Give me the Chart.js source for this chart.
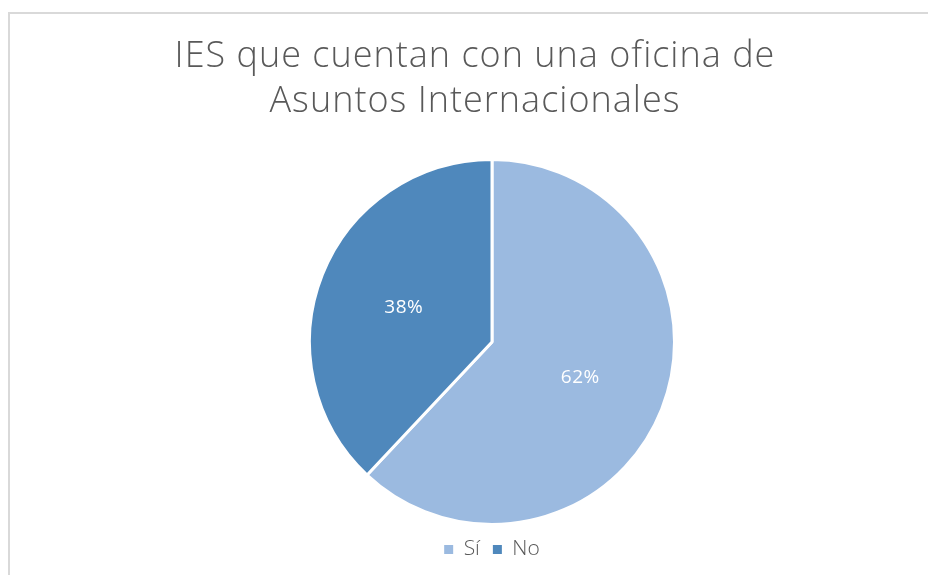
<!DOCTYPE html>
<html>
<head>
<meta charset="utf-8">
<script src="https://cdn.jsdelivr.net/npm/chart.js@4"></script>
<style>
html,body{margin:0;padding:0;background:#fff;}
#wrap{width:928px;height:575px;position:relative;}
</style>
</head>
<body>
<div id="wrap"><canvas id="c" width="928" height="575"></canvas></div>
<script>
const titleLines = ["IES que cuentan con una oficina de", "Asuntos Internacionales"];
const categories = ["Sí", "No"];
const values = [62, 38];
const colors = ["#9BBAE0", "#4F88BC"];

const frame = {
  id: 'frame',
  beforeDraw(chart) {
    const ctx = chart.ctx;
    ctx.save();
    ctx.fillStyle = '#ffffff';
    ctx.fillRect(0, 0, chart.width, chart.height);
    ctx.strokeStyle = '#D9D9D9';
    ctx.lineWidth = 2;
    ctx.strokeRect(9, 13, 1000, 1000);
    // title
    ctx.fillStyle = '#595959';
    ctx.font = '300 36px "Open Sans", Lato, sans-serif';
    try { ctx.letterSpacing = '1px'; } catch (e) {}
    ctx.textAlign = 'center';
    ctx.textBaseline = 'alphabetic';
    titleLines.forEach((t, i) => ctx.fillText(t, 475, 67 + i * 45));
    ctx.restore();
  }
};

const sliceLabels = {
  id: 'sliceLabels',
  afterDatasetsDraw(chart) {
    const ctx = chart.ctx;
    const meta = chart.getDatasetMeta(0);
    const ds = chart.data.datasets[0];
    const total = ds.data.reduce((a, b) => a + b, 0);
    ctx.save();
    ctx.fillStyle = '#ffffff';
    ctx.font = '19px "Open Sans", Lato, sans-serif';
    try { ctx.letterSpacing = '0.5px'; } catch (e) {}
    ctx.textAlign = 'center';
    ctx.textBaseline = 'middle';
    meta.data.forEach((arc, i) => {
      const p = arc.getProps(['x', 'y', 'startAngle', 'endAngle', 'outerRadius'], true);
      const mid = (p.startAngle + p.endAngle) / 2;
      const r = p.outerRadius * 0.52;
      const x = p.x + Math.cos(mid) * r;
      const y = p.y + Math.sin(mid) * r + 1;
      ctx.fillText(Math.round(ds.data[i] / total * 100) + '%', x, y);
    });
    ctx.restore();
  }
};

new Chart(document.getElementById('c'), {
  type: 'pie',
  data: {
    labels: categories,
    datasets: [{
      data: values,
      backgroundColor: colors,
      borderColor: '#ffffff',
      borderWidth: 3,
      hoverOffset: 0
    }]
  },
  options: {
    responsive: false,
    animation: false,
    layout: { padding: { left: 56, right: 0, top: 158, bottom: 5 } },
    plugins: {
      tooltip: { enabled: false },
      title: { display: false },
      legend: {
        position: 'bottom',
        labels: {
          color: '#595959',
          font: { family: '"Open Sans", Lato, sans-serif', size: 21, weight: '300' },
          boxWidth: 9,
          boxHeight: 9,
          padding: 13,
          generateLabels(chart) {
            const ds = chart.data.datasets[0];
            return chart.data.labels.map((l, i) => ({
              text: l,
              fillStyle: ds.backgroundColor[i],
              strokeStyle: ds.backgroundColor[i],
              lineWidth: 0,
              index: i,
              fontColor: '#595959'
            }));
          }
        }
      }
    }
  },
  plugins: [frame, sliceLabels]
});
</script>
</body>
</html>
